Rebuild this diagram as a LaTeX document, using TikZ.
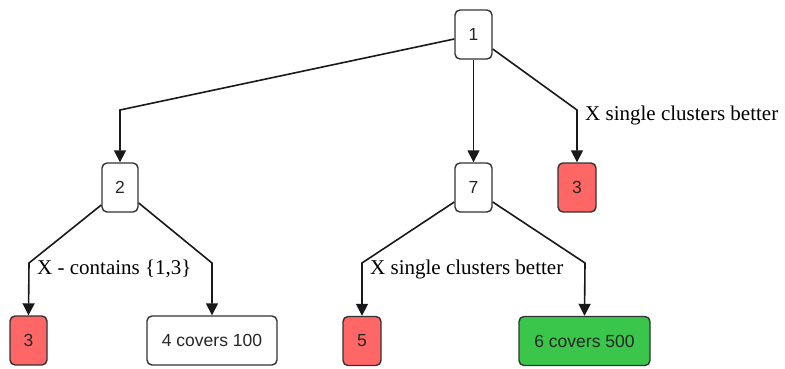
\documentclass[tikz,border=0pt]{standalone}
\usepackage{fontspec}
\setmainfont{Liberation Serif}
\newfontfamily\nodefont{Liberation Sans}
\usetikzlibrary{arrows.meta}
\definecolor{boxred}{HTML}{FF6666}
\definecolor{boxgreen}{HTML}{3AC64A}
\definecolor{edgegray}{HTML}{333333}
\tikzset{
  box/.style={draw=edgegray, line width=1.4pt, rounded corners=5pt, fill=white,
    inner sep=0pt, align=center, font=\nodefont\fontsize{17.5}{20}\selectfont, text=black!85},
  redbox/.style={box, fill=boxred},
  greenbox/.style={box, fill=boxgreen},
  conn/.style={draw=black!90, line width=1.6pt, -{Triangle[length=12pt,width=12pt]}},
  lbl/.style={inner sep=0pt, anchor=base west, font=\fontsize{21}{24}\selectfont}
}
\begin{document}
\begin{tikzpicture}[x=1pt,y=-1pt]
\useasboundingbox (0,0) rectangle (785,369);
\node[box, minimum width=37pt, minimum height=49pt] (n1) at (473.5,34.5) {1};
\node[box, minimum width=36pt, minimum height=49pt] (n2) at (120,187.5) {2};
\node[box, minimum width=37pt, minimum height=49pt] (n7) at (473.5,187.5) {7};
\node[redbox, minimum width=38pt, minimum height=49pt] (n3r) at (577,187.5) {3};
\node[redbox, minimum width=37pt, minimum height=49pt] (n3l) at (28.5,340.5) {3};
\node[box, minimum width=130pt, minimum height=49pt] (n4) at (212,340.5) {4 covers 100};
\node[redbox, minimum width=38pt, minimum height=49pt] (n5) at (362,341) {5};
\node[greenbox, minimum width=131pt, minimum height=49pt] (n6) at (584.5,341) {6 covers 500};

\draw[conn] ([yshift=-4.5pt]n1.west) -- (120,110) -- (n2.north);
\draw[conn] (n1.south) -- (n7.north);
\draw[conn] ([yshift=-14.5pt]n1.east) -- (577,110) -- (n3r.north);
\draw[conn] ([yshift=-17.5pt]n2.west) -- (29,263) -- (n3l.north);
\draw[conn] ([yshift=-15.5pt]n2.east) -- (212,263) -- (n4.north);
\draw[conn] ([yshift=-14.5pt]n7.west) -- (362,263) -- (n5.north);
\draw[conn] ([yshift=-14.5pt]n7.east) -- (585,263) -- (n6.north);

\node[lbl] (l1) at (585,120.5) {X single clusters better};
\node[lbl] (l2) at (37,274) {X - contains \{1,3\}};
\node[lbl] (l3) at (370,274) {X single clusters better};
\end{tikzpicture}
\end{document}
